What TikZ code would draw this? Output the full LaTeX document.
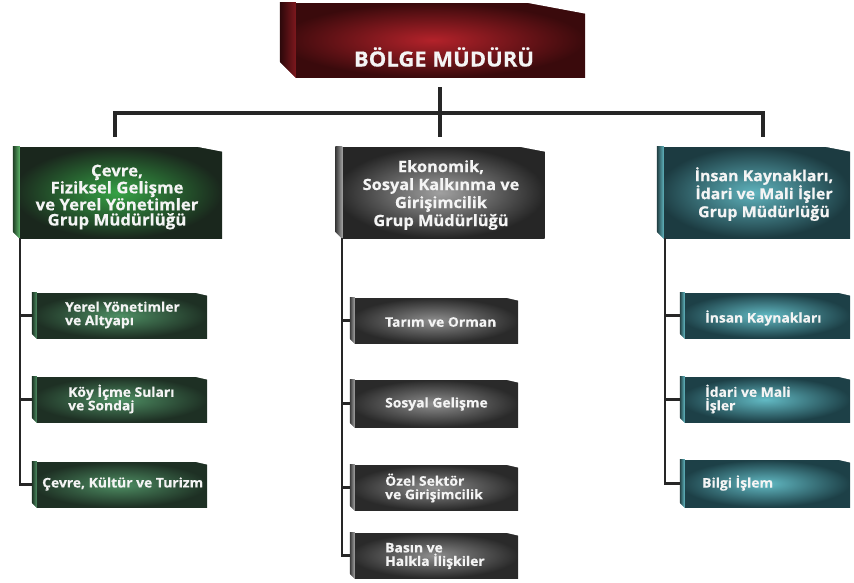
\documentclass[tikz,border=0pt]{standalone}
\usepackage{fontspec}
\newfontfamily\labfont{Open Sans}[FakeStretch=1.05,FakeBold=0.35]
\usetikzlibrary{calc}
\definecolor{redin}{HTML}{B3222A}
\definecolor{redout}{HTML}{3A0A0C}
\definecolor{grin}{HTML}{36A245}
\definecolor{grout}{HTML}{1A271D}
\definecolor{gsin}{HTML}{4E8E63}
\definecolor{gsout}{HTML}{1E3024}
\definecolor{gyin}{HTML}{A0A0A0}
\definecolor{gyout}{HTML}{262626}
\definecolor{gysin}{HTML}{8E8E8E}
\definecolor{gysout}{HTML}{2A2A2A}
\definecolor{tin}{HTML}{5FB3BD}
\definecolor{tout}{HTML}{1C3B41}
\definecolor{tsin}{HTML}{62BAC4}
\definecolor{tsout}{HTML}{1D4047}
\definecolor{txt}{HTML}{F4F4F4}
\newcommand\boxdeco[5]{%
  \fill[white] ([xshift=-#2]#1.north east) -- ([xshift=1pt,yshift=1pt]#1.north east) -- ([xshift=1pt,yshift=-#3]#1.north east) -- cycle;
  \shade[left color=#5!35!black, right color=#5] (#1.north west) -- ([xshift=#4]#1.north west) -- ([xshift=#4]#1.south west) -- (#1.south west) -- cycle;
  \fill[white] ([xshift=-1pt,yshift=#4]#1.south west) -- ([xshift=-1pt,yshift=-1pt]#1.south west) -- ([xshift=#4,yshift=-1pt]#1.south west) -- cycle;
}
\begin{document}
\begin{tikzpicture}[x=1pt,y=-1pt,
  box/.style={rectangle, inner sep=0pt, shading=radial, shade},
  topbox/.style={box, inner color=redin, outer color=redout, minimum width=305pt, minimum height=74pt},
  grpbox/.style={box, minimum width=209pt, minimum height=91pt},
  subbox/.style={box, minimum width=172pt, minimum height=45pt},
  gtext/.style={text=txt, font=\labfont\bfseries\fontsize{15.6}{18}\selectfont, align=center, inner sep=0pt},
  stext/.style={text=txt, font=\labfont\bfseries\fontsize{13.2}{13.5}\selectfont, align=left, inner sep=0pt, anchor=west},
  conn/.style={line width=3.6pt, draw=black!85},
  branch/.style={line width=2.2pt, draw=black!85}
]
\useasboundingbox (0,0) rectangle (854,582);
% top
\node[topbox] (top) at (432.5,40) {};
\boxdeco{top}{58pt}{11pt}{16pt}{redin!70!black}
\node[text=txt, font=\labfont\bfseries\fontsize{21}{22}\selectfont, inner sep=0pt] (toptext) at (444,57) {BÖLGE MÜDÜRÜ};
% groups
\node[grpbox, inner color=grin, outer color=grout] (g1) at (117.5,192.5) {};
\boxdeco{g1}{25pt}{5pt}{7pt}{grin!80!white}
\node[grpbox, inner color=gyin, outer color=gyout] (g2) at (440,192.5) {};
\boxdeco{g2}{25pt}{5pt}{7pt}{gyin}
\node[grpbox, minimum width=193pt, inner color=tin, outer color=tout] (g3) at (753.5,192.5) {};
\boxdeco{g3}{25pt}{5pt}{7pt}{tin}
\node[gtext, font=\labfont\bfseries\fontsize{16}{15.2}\selectfont] (g1t) at (117,197) {Çevre,\\Fiziksel Gelişme\\ve Yerel Yönetimler\\Grup Müdürlüğü};
\node[gtext] (g2t) at (441,195) {Ekonomik,\\Sosyal Kalkınma ve\\Girişimcilik\\Grup Müdürlüğü};
\node[gtext, font=\labfont\bfseries\fontsize{15.2}{18}\selectfont] (g3t) at (764,194) {İnsan Kaynakları,\\İdari ve Mali İşler\\Grup Müdürlüğü};
% top connectors
\coordinate (bl) at (115,113);
\coordinate (br) at (763,113);
\draw[conn] (bl) -- (br);
\draw[conn, shorten <=10pt, shorten >=10pt] (g2.north |- top.south) -- (g2.north);
\draw[conn, shorten >=10pt] ([yshift=1.8pt]bl) -- (bl |- g1.north);
\draw[conn, shorten >=10pt] ([yshift=1.8pt]br) -- (br |- g3.north);
% left subs
\node[subbox, minimum width=175pt, inner color=gsin, outer color=gsout] (l1) at (119.5,315.5) {};
\node[subbox, minimum width=175pt, inner color=gsin, outer color=gsout] (l2) at (119.5,399.5) {};
\node[subbox, minimum width=175pt, inner color=gsin, outer color=gsout] (l3) at (119.5,484.5) {};
\foreach \n in {l1,l2,l3}{\boxdeco{\n}{12pt}{3pt}{5pt}{gsin}}
\node[stext] (l1t) at (65,315) {Yerel Yönetimler\\ve Altyapı};
\node[stext] (l2t) at (68,399) {Köy İçme Suları\\ve Sondaj};
\node[stext] (l3t) at (42,484) {Çevre, Kültür ve Turizm};
% middle subs
\node[subbox, minimum width=168pt, inner color=gysin, outer color=gysout] (m1) at (434,320.5) {};
\node[subbox, minimum width=168pt, minimum height=47pt, inner color=gysin, outer color=gysout] (m2) at (434,403.5) {};
\node[subbox, minimum width=168pt, inner color=gysin, outer color=gysout] (m3) at (434,487.5) {};
\node[subbox, minimum width=168pt, inner color=gysin, outer color=gysout] (m4) at (434,555.5) {};
\foreach \n in {m1,m2,m3,m4}{\boxdeco{\n}{12pt}{3pt}{5pt}{gysin!80!white}}
\node[stext] (m1t) at (385,322) {Tarım ve Orman};
\node[stext] (m2t) at (385,404) {Sosyal Gelişme};
\node[stext] (m3t) at (385,488) {Özel Sektör\\ve Girişimcilik};
\node[stext] (m4t) at (385,556) {Basın ve\\Halkla İlişkiler};
% right subs
\node[subbox, minimum width=170pt, inner color=tsin, outer color=tsout] (r1) at (765,315.5) {};
\node[subbox, minimum width=170pt, inner color=tsin, outer color=tsout] (r2) at (765,399.5) {};
\node[subbox, minimum width=170pt, minimum height=47pt, inner color=tsin, outer color=tsout] (r3) at (765,483.5) {};
\foreach \n in {r1,r2,r3}{\boxdeco{\n}{12pt}{3pt}{5pt}{tsin}}
\node[stext] (r1t) at (705,318) {İnsan Kaynakları};
\node[stext] (r2t) at (705,399) {İdari ve Mali\\İşler};
\node[stext] (r3t) at (702,483) {Bilgi İşlem};
% branches
\foreach \n in {l1,l2,l3}{\draw[branch] ([xshift=7pt]g1.south west) |- (\n.west);}
\foreach \n in {m1,m2,m3,m4}{\draw[branch] ([xshift=7pt]g2.south west) |- (\n.west);}
\foreach \n in {r1,r2,r3}{\draw[branch] ([xshift=8pt]g3.south west) |- (\n.west);}
\end{tikzpicture}
\end{document}
